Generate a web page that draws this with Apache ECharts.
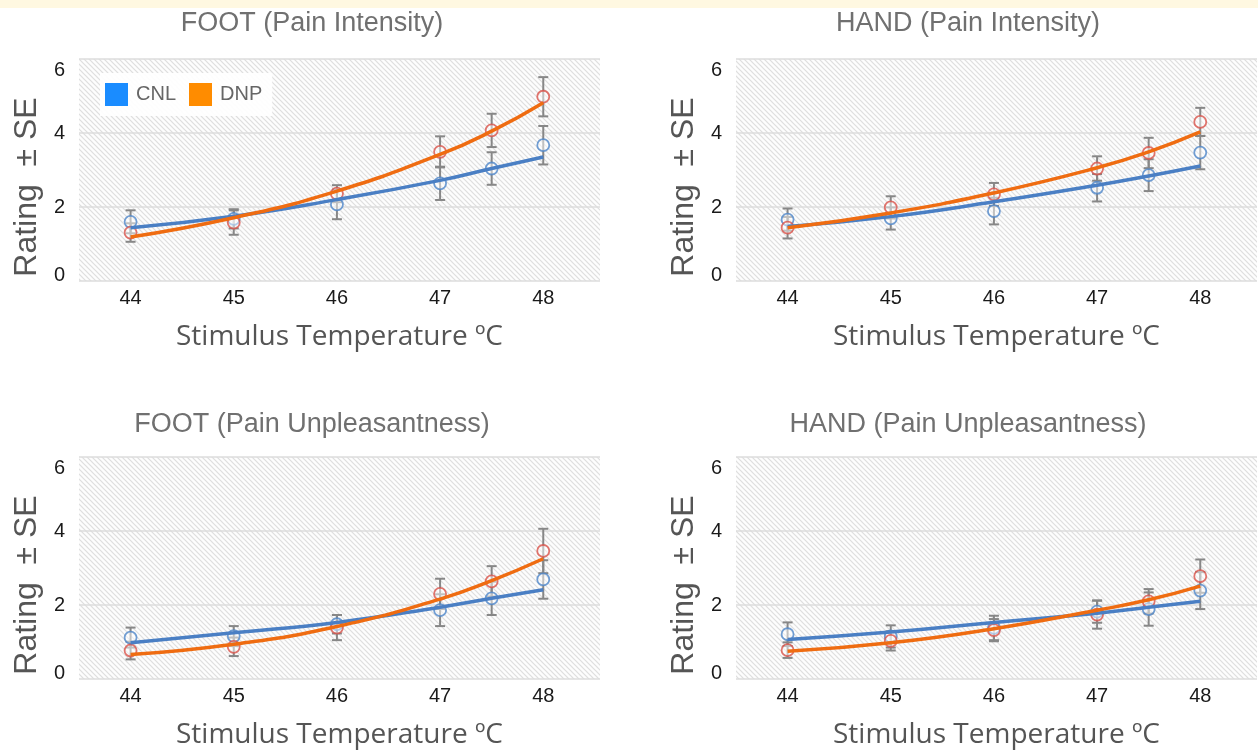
<!DOCTYPE html>
<html>
<head>
<meta charset="utf-8">
<script src="https://cdn.jsdelivr.net/npm/echarts@6/dist/echarts.min.js"></script>
<style>
html, body { margin: 0; padding: 0; background: #fff; }
#main { width: 1258px; height: 751px; }
</style>
</head>
<body>
<div id="main"></div>
<script>
// stimulus temperatures (ºC) and axis labels
var temps = [44, 45, 46, 47, 47.5, 48];
var tickTemps = [44, 45, 46, 47, 48];

// FOOT (Pain Intensity)
var footIntCnl = [1.60, 1.68, 2.07, 2.64, 3.04, 3.67];
var footIntCnlSe = [0.31, 0.26, 0.40, 0.45, 0.44, 0.52];
var footIntDnp = [1.31, 1.58, 2.36, 3.49, 4.07, 4.98];
var footIntDnpSe = [0.25, 0.33, 0.23, 0.42, 0.45, 0.53];
var footIntCnlFit = [1.44, 1.75, 2.20, 2.72, 3.04, 3.35];
var footIntDnpFit = [1.19, 1.71, 2.43, 3.42, 4.05, 4.82];

// HAND (Pain Intensity)
var handIntCnl = [1.66, 1.69, 1.89, 2.52, 2.86, 3.47];
var handIntCnlSe = [0.30, 0.30, 0.36, 0.37, 0.43, 0.45];
var handIntDnp = [1.44, 1.99, 2.34, 3.04, 3.46, 4.30];
var handIntDnpSe = [0.29, 0.30, 0.31, 0.33, 0.41, 0.38];
var handIntCnlFit = [1.47, 1.74, 2.14, 2.59, 2.84, 3.11];
var handIntDnpFit = [1.44, 1.84, 2.38, 3.06, 3.49, 4.03];

// FOOT (Pain Unpleasantness)
var footUnpCnl = [1.12, 1.16, 1.48, 1.86, 2.18, 2.69];
var footUnpCnlSe = [0.27, 0.27, 0.25, 0.43, 0.45, 0.52];
var footUnpDnp = [0.77, 0.87, 1.39, 2.30, 2.64, 3.46];
var footUnpDnpSe = [0.24, 0.25, 0.34, 0.41, 0.41, 0.60];
var footUnpCnlFit = [0.98, 1.25, 1.53, 1.94, 2.18, 2.41];
var footUnpDnpFit = [0.66, 0.94, 1.42, 2.16, 2.66, 3.25];

// HAND (Pain Unpleasantness)
var handUnpCnl = [1.21, 1.15, 1.38, 1.82, 1.89, 2.39];
var handUnpCnlSe = [0.32, 0.30, 0.33, 0.30, 0.45, 0.50];
var handUnpDnp = [0.78, 1.03, 1.32, 1.74, 2.10, 2.78];
var handUnpDnpSe = [0.21, 0.26, 0.30, 0.38, 0.33, 0.45];
var handUnpCnlFit = [1.07, 1.27, 1.53, 1.78, 1.94, 2.10];
var handUnpDnpFit = [0.75, 0.98, 1.36, 1.86, 2.14, 2.51];

var panels = [
  { title: 'FOOT (Pain Intensity)', cnl: footIntCnl, cnlSe: footIntCnlSe, dnp: footIntDnp, dnpSe: footIntDnpSe, cnlFit: footIntCnlFit, dnpFit: footIntDnpFit },
  { title: 'HAND (Pain Intensity)', cnl: handIntCnl, cnlSe: handIntCnlSe, dnp: handIntDnp, dnpSe: handIntDnpSe, cnlFit: handIntCnlFit, dnpFit: handIntDnpFit },
  { title: 'FOOT (Pain Unpleasantness)', cnl: footUnpCnl, cnlSe: footUnpCnlSe, dnp: footUnpDnp, dnpSe: footUnpDnpSe, cnlFit: footUnpCnlFit, dnpFit: footUnpDnpFit },
  { title: 'HAND (Pain Unpleasantness)', cnl: handUnpCnl, cnlSe: handUnpCnlSe, dnp: handUnpDnp, dnpSe: handUnpDnpSe, cnlFit: handUnpCnlFit, dnpFit: handUnpDnpFit }
];

// layout of the 4 panels
var gridLefts = [79, 736, 79, 736];
var gridTops = [59, 59, 457, 457];
var titleX = [307, 963, 307, 963];
var titleY = [5, 5, 406, 406];

// diagonal hatch for plot background
function makeHatch() {
  var c = document.createElement('canvas');
  c.width = 5; c.height = 5;
  var g = c.getContext('2d');
  g.fillStyle = '#fdfdfd';
  g.fillRect(0, 0, 5, 5);
  g.strokeStyle = '#dedede';
  g.lineWidth = 1.2;
  [-5, 0, 5].forEach(function (o) {
    g.beginPath();
    g.moveTo(o - 1, -1);
    g.lineTo(o + 6, 6);
    g.stroke();
  });
  return c;
}
var hatch = makeHatch();

function errRender(color) {
  return function (params, api) {
    var x = api.value(0), y = api.value(1), e = api.value(2);
    var top = api.coord([x, y + e]);
    var bot = api.coord([x, y - e]);
    var w = 5;
    var st = { stroke: color, lineWidth: 2 };
    return {
      type: 'group',
      children: [
        { type: 'line', shape: { x1: top[0], y1: top[1], x2: bot[0], y2: bot[1] }, style: st },
        { type: 'line', shape: { x1: top[0] - w, y1: top[1], x2: top[0] + w, y2: top[1] }, style: st },
        { type: 'line', shape: { x1: bot[0] - w, y1: bot[1], x2: bot[0] + w, y2: bot[1] }, style: st }
      ]
    };
  };
}

function pairs(xs, ys) { return xs.map(function (x, i) { return [x, ys[i]]; }); }
function triples(xs, ys, es) { return xs.map(function (x, i) { return [x, ys[i], es[i]]; }); }

// top and bottom y labels sit a little inside the plot, as in the source figure
function yLabel(v) {
  if (v === 6) return '{t|6}';
  if (v === 0) return '{b|0}';
  return '{m|' + v + '}';
}
var yRich = {
  t: { fontSize: 20, color: '#1a1a1a', fontFamily: 'Liberation Sans', padding: [22, 0, 0, 0] },
  b: { fontSize: 20, color: '#1a1a1a', fontFamily: 'Liberation Sans', padding: [0, 0, 12, 0] },
  m: { fontSize: 20, color: '#1a1a1a', fontFamily: 'Liberation Sans' }
};

var grids = [], xAxes = [], yAxes = [], titles = [], series = [], graphics = [];

panels.forEach(function (p, i) {
  grids.push({
    left: gridLefts[i], top: gridTops[i], width: 521, height: 222,
    show: true, borderWidth: 0,
    backgroundColor: { image: hatch, repeat: 'repeat' },
    outerBoundsMode: 'none'
  });
  xAxes.push({
    type: 'value', gridIndex: i, min: 43.5, max: 48.55,
    axisLine: { show: false }, axisTick: { show: false }, splitLine: { show: false },
    axisLabel: { customValues: tickTemps, margin: 7, fontSize: 20, color: '#1a1a1a', fontFamily: 'Liberation Sans' },
    name: 'Stimulus Temperature ºC', nameLocation: 'middle', nameGap: 42,
    nameTextStyle: { fontSize: 28, color: '#555', fontFamily: 'Open Sans' }
  });
  yAxes.push({
    type: 'value', gridIndex: i, min: 0, max: 6, interval: 2,
    axisLine: { show: false }, axisTick: { show: false },
    axisLabel: { margin: 14, formatter: yLabel, rich: yRich },
    splitLine: { lineStyle: { color: '#dcdcdc', width: 1.5 } }
  });
  titles.push({
    text: p.title, left: titleX[i], top: titleY[i], textAlign: 'center',
    textStyle: { fontSize: 27, fontWeight: 'normal', color: '#707070', fontFamily: 'Liberation Sans' }
  });
  graphics.push({
    type: 'text', x: gridLefts[i] - 52, y: gridTops[i] + 128, rotation: Math.PI / 2,
    style: { text: 'Rating  \u00b1 SE', fontSize: 32, fontFamily: 'Liberation Sans', fill: '#555', align: 'center', verticalAlign: 'middle' }
  });

  series.push(
    { type: 'custom', name: 'CNL SE', xAxisIndex: i, yAxisIndex: i, z: 2, renderItem: errRender('#878787'),
      encode: { x: 0, y: 1 }, data: triples(temps, p.cnl, p.cnlSe) },
    { type: 'custom', name: 'DNP SE', xAxisIndex: i, yAxisIndex: i, z: 2, renderItem: errRender('#878787'),
      encode: { x: 0, y: 1 }, data: triples(temps, p.dnp, p.dnpSe) },
    { type: 'scatter', name: 'CNL mean', xAxisIndex: i, yAxisIndex: i, z: 3, symbol: 'circle', symbolSize: 12,
      itemStyle: { color: 'rgba(255,255,255,0.6)', borderColor: '#4d86c9', borderWidth: 1.8 }, data: pairs(temps, p.cnl) },
    { type: 'scatter', name: 'DNP mean', xAxisIndex: i, yAxisIndex: i, z: 3, symbol: 'circle', symbolSize: 12,
      itemStyle: { color: 'rgba(255,255,255,0.6)', borderColor: '#d9534a', borderWidth: 1.8 }, data: pairs(temps, p.dnp) },
    { type: 'line', name: 'CNL', xAxisIndex: i, yAxisIndex: i, z: 4, smooth: true, showSymbol: false,
      lineStyle: { color: '#4a7fc4', width: 3.5 }, itemStyle: { color: '#4a7fc4' }, data: pairs(temps, p.cnlFit) },
    { type: 'line', name: 'DNP', xAxisIndex: i, yAxisIndex: i, z: 4, smooth: true, showSymbol: false,
      lineStyle: { color: '#ef6c11', width: 3.5 }, itemStyle: { color: '#ef6c11' }, data: pairs(temps, p.dnpFit) }
  );
});

// cream strip along the top edge
graphics.push({ type: 'rect', left: 0, top: 0, shape: { width: 1258, height: 8 }, style: { fill: '#fff8e1' }, z: -1 });

var chart = echarts.init(document.getElementById('main'));
chart.setOption({
  animation: false,
  title: titles,
  grid: grids,
  xAxis: xAxes,
  yAxis: yAxes,
  legend: {
    left: 100, top: 73, orient: 'horizontal',
    itemWidth: 23, itemHeight: 23, itemGap: 13,
    padding: [10, 10, 10, 5],
    backgroundColor: 'rgba(255,255,255,0.92)',
    textStyle: { fontSize: 20, color: '#666', fontFamily: 'Liberation Sans', padding: [0, 0, 0, 3] },
    data: [
      { name: 'CNL', icon: 'rect', itemStyle: { color: '#1a8cff' } },
      { name: 'DNP', icon: 'rect', itemStyle: { color: '#ff8c00' } }
    ]
  },
  graphic: graphics,
  series: series
});
</script>
</body>
</html>
